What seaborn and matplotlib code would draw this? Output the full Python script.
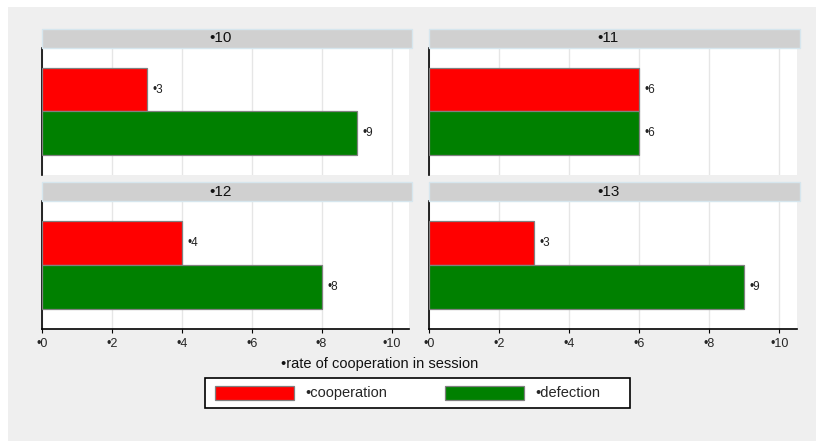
import matplotlib
matplotlib.use("Agg")
import matplotlib.pyplot as plt
from matplotlib.patches import Rectangle, Patch
import pandas as pd
import seaborn as sns

# Session results: counts of cooperation vs. defection
sessions = ["10", "11", "12", "13"]
cooperation = [3, 6, 4, 3]
defection = [9, 6, 8, 9]
outcomes = ["cooperation", "defection"]
colors = {"cooperation": "#ff0000", "defection": "#008000"}
xticks = [0, 2, 4, 6, 8, 10]

rows = []
for s, c, d in zip(sessions, cooperation, defection):
    rows.append({"session": s, "outcome": "cooperation", "rate": c})
    rows.append({"session": s, "outcome": "defection", "rate": d})
df = pd.DataFrame(rows)

sns.set_style("white")
plt.rcParams["font.family"] = ["Liberation Sans", "DejaVu Sans"]

W, H = 816, 441
fig = plt.figure(figsize=(W / 100, H / 100), dpi=100, facecolor="white")
# grey graph region inside a thin white margin
fig.patches.append(Rectangle((8 / W, 0), 1 - 8 / W, 1 - 7 / H,
                             transform=fig.transFigure, facecolor="#efefef",
                             edgecolor="none", zorder=-10))

# panel boxes in pixel units: (left, top, right, bottom)
boxes = [(42, 48, 409, 175), (429, 48, 797, 175),
         (42, 201, 409, 329), (429, 201, 797, 329)]
strip_h = 19

for i, (s, (l, t, r, b)) in enumerate(zip(sessions, boxes)):
    ax = fig.add_axes([l / W, 1 - b / H, (r - l) / W, (b - t) / H])
    ax.set_facecolor("white")
    sub = df[df["session"] == s]
    sns.barplot(data=sub, x="rate", y="outcome", hue="outcome", order=outcomes,
                hue_order=outcomes, palette=colors, orient="h", width=1,
                saturation=1, legend=False, edgecolor="#808080", linewidth=0.9,
                ax=ax, zorder=3)
    for cont in ax.containers:
        ax.bar_label(cont, fmt="•{:g}", padding=4, fontsize=8.5, color="#222222")
    ax.set_xlim(0, 10.5)
    ax.set_ylim(1.97, -0.97)
    ax.set_xticks(xticks)
    ax.grid(axis="x", color="#e6e6e6", linewidth=1, zorder=0)
    ax.set_yticks([])
    ax.set_xlabel("")
    ax.set_ylabel("")
    for side in ["top", "right"]:
        ax.spines[side].set_visible(False)
    ax.spines["left"].set_color("black")
    ax.spines["left"].set_linewidth(1.2)
    if i >= 2:
        ax.spines["bottom"].set_color("black")
        ax.spines["bottom"].set_linewidth(1.2)
        ax.set_xticklabels([f"•{v}" for v in xticks], fontsize=9)
        ax.tick_params(axis="x", bottom=True, length=3, width=0.8,
                       color="black", pad=3.5)
    else:
        ax.spines["bottom"].set_visible(False)
        ax.tick_params(axis="x", bottom=False, labelbottom=False)
    # facet strip
    hpx = b - t
    wfrac = (r - l + 3) / (r - l)
    strip = Rectangle((0, 1), wfrac, strip_h / hpx,
                      transform=ax.transAxes, facecolor="#d0d0d0",
                      edgecolor="#d6e6ee", linewidth=1, clip_on=False, zorder=5)
    ax.add_patch(strip)
    ax.text(0.5 * wfrac - 6 / (r - l), 1 + strip_h / 2 / hpx, f"•{s}",
            transform=ax.transAxes, ha="center", va="center", fontsize=11,
            color="#111111", zorder=6)

fig.text(380 / W, 1 - 364 / H, "•rate of cooperation in session",
         ha="center", va="center", fontsize=10.5, color="#111111")

# legend frame
fig.patches.append(Rectangle((205 / W, 1 - 408 / H), 425 / W, 30 / H,
                             transform=fig.transFigure, facecolor="white",
                             edgecolor="black", linewidth=1.2, zorder=1))
handles = [Patch(facecolor=colors[o], edgecolor="#808080", linewidth=0.9)
           for o in outcomes]
leg = fig.legend(handles, ["•cooperation", "•defection"], ncol=2,
                 loc="center left", bbox_to_anchor=(215 / W, 1 - 393 / H),
                 frameon=False, fontsize=10.5, borderpad=0, borderaxespad=0,
                 handlelength=5.42, handleheight=1.1, handletextpad=0.75,
                 columnspacing=3.98)
leg.set_zorder(2)

fig.savefig("out.png", dpi=100, facecolor=fig.get_facecolor())
